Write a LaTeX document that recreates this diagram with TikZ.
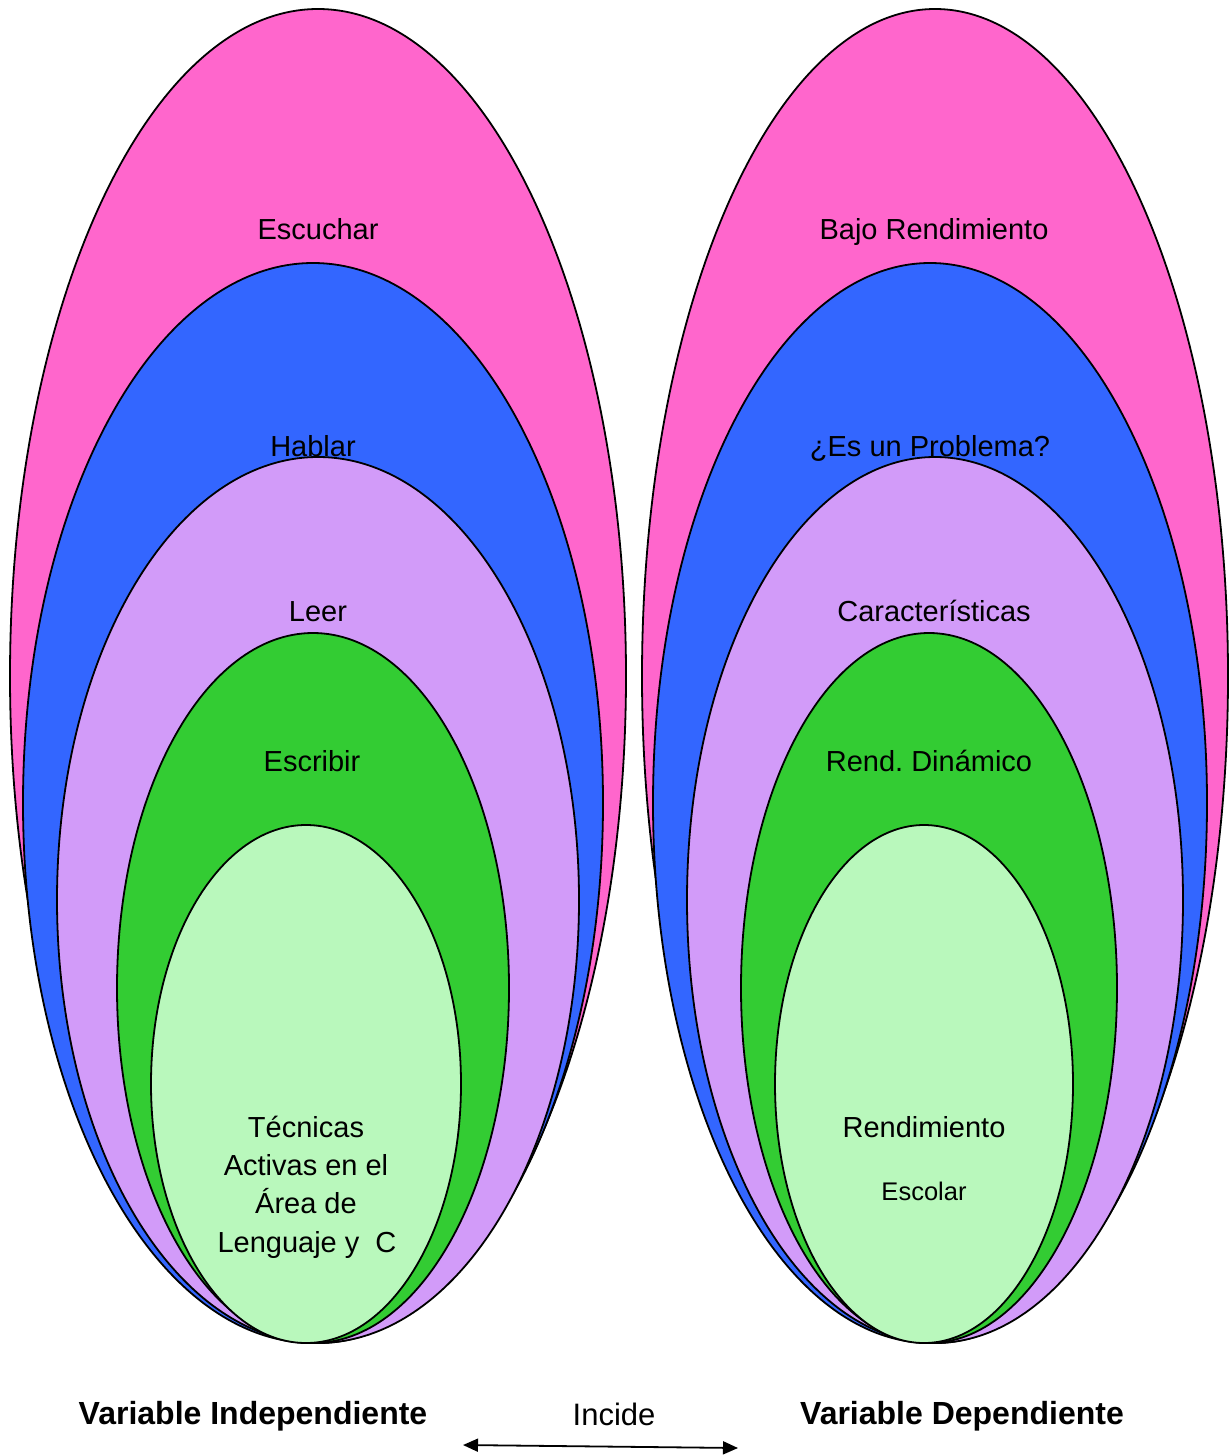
\documentclass[tikz,border=0pt]{standalone}
\usepackage{fontspec}
\setmainfont{Liberation Sans}
\usepackage{tikz}
\usetikzlibrary{arrows.meta}
\usepackage{xcolor}
\definecolor{rosa}{HTML}{FF66CC}
\definecolor{azul}{HTML}{3366FF}
\definecolor{lila}{HTML}{D29BF9}
\definecolor{verde}{HTML}{33CC33}
\definecolor{verdeclaro}{HTML}{B9F8BC}
\tikzset{
  capa/.style={draw=black, line width=1.8pt},
  etiqueta/.style={anchor=base, inner sep=0pt, font=\fontsize{29}{35}\selectfont},
  titulo/.style={anchor=base, inner sep=0pt, font=\fontsize{32}{38}\selectfont\bfseries}
}
\begin{document}
\begin{tikzpicture}[x=1pt, y=-1pt]
        \useasboundingbox (0,0) rectangle (1230,1456);
        \draw[capa, fill=rosa] (318,676) ellipse [x radius=308, y radius=667];
        \draw[capa, fill=azul] (313,803) ellipse [x radius=290, y radius=540];
        \draw[capa, fill=lila] (318,900) ellipse [x radius=261, y radius=443];
        \draw[capa, fill=verde] (313,988) ellipse [x radius=196, y radius=355];
        \draw[capa, fill=verdeclaro] (306,1084) ellipse [x radius=155, y radius=259];
        \draw[capa, fill=rosa] (935,676) ellipse [x radius=293, y radius=667];
        \draw[capa, fill=azul] (930,803) ellipse [x radius=277, y radius=540];
        \draw[capa, fill=lila] (935,900) ellipse [x radius=248, y radius=443];
        \draw[capa, fill=verde] (929,988) ellipse [x radius=188, y radius=355];
        \draw[capa, fill=verdeclaro] (924,1084) ellipse [x radius=149, y radius=259];
        \node[etiqueta] (escuchar) at (318,239) {Escuchar};
        \node[etiqueta] (hablar) at (313,456) {Hablar};
        \node[etiqueta] (leer) at (318,621) {Leer};
        \node[etiqueta] (escribir) at (312,771) {Escribir};
        \node[etiqueta] (tecnicas) at (306,1137) {Técnicas};
        \node[etiqueta] (activas) at (306,1175) {Activas en el};
        \node[etiqueta] (area) at (306,1213) {Área de};
        \node[etiqueta] (lenguaje) at (307,1252) {Lenguaje y\ \ C};
        \node[etiqueta] (bajo) at (934,239) {Bajo Rendimiento};
        \node[etiqueta] (problema) at (930,456) {¿Es un Problema?};
        \node[etiqueta] (caract) at (934,621) {Características};
        \node[etiqueta] (dinamico) at (929,771) {Rend.\ Dinámico};
        \node[etiqueta] (rendimiento) at (924,1137) {Rendimiento};
        \node[etiqueta, font=\fontsize{25.5}{30}\selectfont] (escolar) at (924,1200) {Escolar};
        \node[titulo] (vindep) at (253,1424) {Variable Independiente};
        \node[titulo] (vdep) at (962,1424) {Variable Dependiente};
        \node[etiqueta, font=\fontsize{31}{37}\selectfont] (incide) at (614,1425) {Incide};
        \coordinate (izq) at (463,1445);
        \coordinate (der) at (738,1448);
        \draw[{Triangle[length=15pt,width=13pt]}-{Triangle[length=15pt,width=13pt]}, line width=1.8pt] (izq) -- (der);
    \end{tikzpicture}
\end{document}
